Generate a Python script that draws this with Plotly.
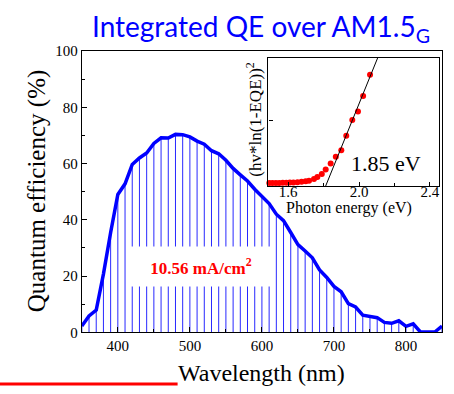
import plotly.graph_objects as go

# External quantum efficiency spectrum (10 nm steps)
wavelength_nm = [350, 360, 370, 380, 390, 400, 410, 420, 430, 440,
                 450, 460, 470, 480, 490, 500, 510, 520, 530, 540,
                 550, 560, 570, 580, 590, 600, 610, 620, 630, 640,
                 650, 660, 670, 680, 690, 700, 710, 720, 730, 740,
                 750, 760, 770, 780, 790, 800, 810, 820, 830, 840, 850]
qe_percent = [2.2, 5.8, 7.9, 20.7, 35.5, 49.0, 52.8, 59.7, 62.0, 63.8,
              67.2, 69.2, 69.1, 70.4, 70.3, 69.5, 68.0, 66.9, 64.6, 63.5,
              61.2, 58.3, 56.0, 53.8, 50.9, 48.3, 45.8, 42.0, 39.7, 35.5,
              31.2, 28.9, 26.5, 22.2, 19.5, 16.3, 14.4, 10.2, 9.0, 6.1,
              5.6, 5.2, 3.5, 3.2, 4.1, 2.1, 3.0, 0.1, 0.1, 0.1, 2.2]

# Tauc-style plot of the absorption edge (arbitrary units)
photon_energy_ev = [1.476, 1.494, 1.512, 1.531, 1.550, 1.570, 1.590, 1.610,
                    1.630, 1.653, 1.676, 1.699, 1.718, 1.746, 1.765, 1.790,
                    1.812, 1.840, 1.869, 1.900, 1.928, 1.962, 1.994, 2.023, 2.062]
tauc_signal = [0.0, 0.0, 0.0, 0.0, 0.001, 0.002, 0.003, 0.004,
               0.005, 0.007, 0.010, 0.014, 0.019, 0.032, 0.048, 0.073,
               0.109, 0.157, 0.211, 0.262, 0.379, 0.504, 0.571, 0.696, 0.866]

# Linear fit of the rising edge
fit_energy_ev = [1.810, 2.105]
fit_signal = [-0.03, 1.0]

jsc_label = "<b>10.56 mA/cm<sup>2</sup></b>"
gap_label = "1.85 eV"

serif = "Liberation Serif"

# vertical hatch lines under the curve, one per data point
hatch_x, hatch_y = [], []
for w, q in zip(wavelength_nm, qe_percent):
    hatch_x += [w, w, None]
    hatch_y += [0, q, None]

fig = go.Figure()
fig.add_trace(go.Scatter(x=hatch_x, y=hatch_y, mode="lines",
                         line=dict(color="rgb(40,40,255)", width=1),
                         hoverinfo="skip", showlegend=False))
fig.add_trace(go.Scatter(x=wavelength_nm, y=qe_percent, mode="lines",
                         line=dict(color="rgb(0,0,255)", width=3.5),
                         showlegend=False))

fig.add_trace(go.Scatter(x=photon_energy_ev, y=tauc_signal, mode="markers",
                         marker=dict(color="rgb(255,0,0)", size=6),
                         cliponaxis=False,
                         xaxis="x2", yaxis="y2", showlegend=False))
fig.add_trace(go.Scatter(x=fit_energy_ev, y=fit_signal, mode="lines",
                         line=dict(color="black", width=1),
                         xaxis="x2", yaxis="y2", showlegend=False))

axis_common = dict(showline=True, linecolor="black", linewidth=1.2, mirror=True,
                   ticks="inside", tickcolor="black", showgrid=False, zeroline=False)

fig.update_layout(
    width=454, height=394,
    margin=dict(l=0, r=0, t=0, b=0),
    paper_bgcolor="white", plot_bgcolor="white",
    xaxis=dict(domain=[82 / 454, 443 / 454], range=[350, 850],
               tickvals=[400, 500, 600, 700, 800], ticklen=5,
               minor=dict(ticks="inside", ticklen=3, dtick=50, tick0=350, tickcolor="black"),
               tickfont=dict(family=serif, size=15, color="black"),
               anchor="y", **axis_common),
    yaxis=dict(domain=[1 - 338 / 394, 1 - 45 / 394], range=[0, 100],
               tickvals=[0, 20, 40, 60, 80, 100], ticklen=5,
               minor=dict(ticks="inside", ticklen=3, dtick=10, tickcolor="black"),
               tickfont=dict(family=serif, size=15, color="black"),
               anchor="x", **axis_common),
    xaxis2=dict(domain=[269 / 454, 440 / 454], range=[1.489, 2.451],
                tickvals=[1.6, 2.0, 2.4], ticktext=["1.6", "2.0", "2.4"], ticklen=4,
                minor=dict(ticks="inside", ticklen=3, tickvals=[1.8, 2.2], tickcolor="black"),
                tickfont=dict(family=serif, size=15, color="black"),
                ticklabelstandoff=-9,
                anchor="y2", **axis_common),
    yaxis2=dict(domain=[1 - 186 / 394, 1 - 52 / 394], range=[-0.027, 1.0],
                tickvals=[0.5], showticklabels=False, ticklen=4,
                anchor="x2", **axis_common),
)

fig.add_annotation(text="Integrated QE over AM1.5<sub>G</sub>",
                   xref="paper", yref="paper", x=262 / 454, y=1 - 21 / 394,
                   xanchor="center", yanchor="middle", showarrow=False,
                   font=dict(family="Lato", size=28, color="rgb(0,0,255)"))
fig.add_annotation(text="Wavelength (nm)", xref="paper", yref="paper",
                   x=262 / 454, y=1 - 380 / 394, xanchor="center", yanchor="middle",
                   showarrow=False, font=dict(family=serif, size=24, color="black"))
fig.add_annotation(text="Quantum efficiency (%)", xref="paper", yref="paper",
                   x=37 / 454, y=1 - 190 / 394, xanchor="center", yanchor="middle",
                   textangle=-90, showarrow=False,
                   font=dict(family=serif, size=25, color="black"))
fig.add_annotation(text="Photon energy (eV)", xref="paper", yref="paper",
                   x=350 / 454, y=1 - 208 / 394, xanchor="center", yanchor="middle",
                   showarrow=False, font=dict(family=serif, size=16, color="black"))
fig.add_annotation(text="(hv*ln(1-EQE))<sup>2</sup>", xref="paper", yref="paper",
                   x=255 / 454, y=1 - 116 / 394, xanchor="center", yanchor="middle",
                   textangle=-90, showarrow=False,
                   font=dict(family=serif, size=17, color="black"))
fig.add_annotation(text=gap_label, xref="x2", yref="y2", x=2.152, y=0.157,
                   xanchor="center", yanchor="middle", showarrow=False,
                   font=dict(family=serif, size=22, color="black"))
fig.add_annotation(text=jsc_label, xref="x", yref="y", x=516, y=23.4,
                   xanchor="center", yanchor="middle", showarrow=False,
                   width=140, height=33, borderpad=3, bgcolor="white",
                   font=dict(family=serif, size=17, color="rgb(255,0,0)"))

# red rule along the lower edge
fig.add_shape(type="line", xref="paper", yref="paper",
              x0=0, x1=178 / 454, y0=2 / 394, y1=2 / 394,
              line=dict(color="rgb(255,0,0)", width=3))

fig.write_html("out.html")
